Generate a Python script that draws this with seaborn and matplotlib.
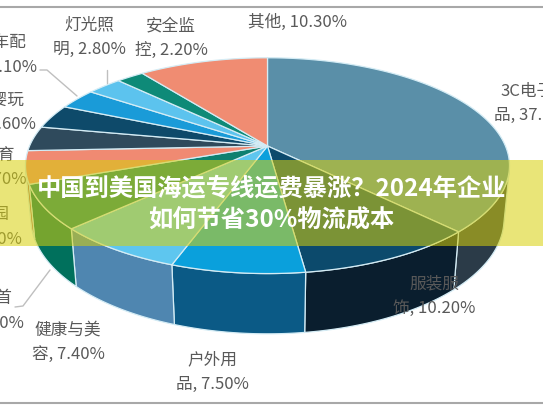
import numpy as np
import matplotlib
matplotlib.use("Agg")
import matplotlib.pyplot as plt
import seaborn as sns
from matplotlib.patches import Polygon, Rectangle

# ---------------- data ----------------
categories = ["3C电子产品", "服装服饰", "户外用品", "健康与美容", "珠宝首饰", "家居园艺",
              "运动体育", "母婴玩具", "汽车配件", "灯光照明", "安全监控", "其他"]
shares = [37.7, 10.2, 7.5, 7.4, 6.6, 4.9, 3.7, 3.6, 3.1, 2.8, 2.2, 10.3]
label_texts = ["3C电子产\n品, 37.70%", "服装服\n饰, 10.20%", "户外用\n品, 7.50%",
               "健康与美\n容, 7.40%", "珠宝首\n饰, 6.60%", "家居园\n艺, 4.90%",
               "运动体育\n用品, 3.70%", "母婴玩\n具, 3.60%", "汽车配\n件, 3.10%",
               "灯光照\n明, 2.80%", "安全监\n控, 2.20%", "其他, 10.30%"]
title_lines = ["中国到美国海运专线运费暴涨？2024年企业", "如何节省30%物流成本"]

# ---------------- style ----------------
top_colors = ["#5a8fa8", "#0c4a6c", "#0aa0dc", "#5ec6ef", "#0e8070", "#f08a72",
              "#2f4a5c", "#0e4a6a", "#1a9bd8", "#5cc3ee", "#0e8a78", "#f08c72"]
side_colors = ["#2b3b48", "#0a1e2e", "#0b5a86", "#4f86b0", "#00705c", "#a8503e",
               "#1c2e3a", "#082c40", "#0d5c84", "#3a7fa0", "#085a4e", "#a8503e"]
# label anchor positions (pixel layout)
label_pos = [(535, 103), (434, 296), (212, 372), (68, 342), (-13, 311), (-15, 227),
             (-18, 167), (-1, 112), (1, 55), (89, 37), (171, 38), (298, 22)]

sns.set_theme(style="white")
plt.rcParams['font.family'] = ['Noto Sans CJK SC', 'DejaVu Sans']

W, H = 543, 408
fig = plt.figure(figsize=(W / 100, H / 100), dpi=100)
ax = fig.add_axes([0, 0, 1, 1])
ax.set_xlim(0, W)
ax.set_ylim(H, 0)
ax.axis('off')

# perspective projection of the pie
cx, cy = 267.5, 146
elev = np.deg2rad(26)
Dcam = 4.93
Fcam = 1173
thick = 0.25


def proj(theta, r=1.0, h=0.0):
    u = r * np.sin(theta)
    v = r * np.cos(theta)
    depth = Dcam + v * np.cos(elev) - h * np.sin(elev)
    up = v * np.sin(elev) + h * np.cos(elev)
    return cx + Fcam * u / depth, cy - Fcam * up / depth


edge_col = "#d4ecf5"
fr = np.array(shares) / np.sum(shares)
bounds = np.concatenate([[0], np.cumsum(fr)]) * 2 * np.pi

# visible side range
cmin = -1 / (Dcam * np.cos(elev))
th_lo = np.arccos(cmin)
th_hi = 2 * np.pi - th_lo

# sides
for i in range(len(shares)):
    a, b = bounds[i], bounds[i + 1]
    a2, b2 = max(a, th_lo), min(b, th_hi)
    if b2 <= a2:
        continue
    t = np.linspace(a2, b2, 80)
    xt, yt = proj(t)
    xb, yb = proj(t[::-1], h=-thick)
    pts = np.column_stack([np.concatenate([xt, xb]), np.concatenate([yt, yb])])
    ax.add_patch(Polygon(pts, closed=True, facecolor=side_colors[i],
                         edgecolor=edge_col, lw=0.9, zorder=2))

# top wedges
for i in range(len(shares)):
    a, b = bounds[i], bounds[i + 1]
    t = np.linspace(a, b, max(int((b - a) * 60), 4))
    xt, yt = proj(t)
    x0, y0 = proj(0.0, r=0.0)
    pts = np.column_stack([np.concatenate([[x0], xt]), np.concatenate([[y0], yt])])
    ax.add_patch(Polygon(pts, closed=True, facecolor=top_colors[i],
                         edgecolor=edge_col, lw=0.9, zorder=3))

# labels
for txt, (lx, ly) in zip(label_texts, label_pos):
    ax.text(lx, ly, txt, ha='center', va='center', fontsize=12, color='#595959',
            linespacing=1.55, multialignment='center', zorder=5)

# leader lines
lc = '#bfbfbf'
ax.plot([40, 47, 77], [70, 70, 96], color=lc, lw=1, zorder=4)
ax.plot([107, 107], [70, 83], color=lc, lw=1, zorder=4)
ax.plot([15, 23, 50], [307, 306, 270], color=lc, lw=1, zorder=4)

# frame lines
ax.plot([0, W], [7, 7], color='#a8a8a8', lw=1.5, zorder=6)
ax.plot([0, W], [403, 403], color='#a8a8a8', lw=1.5, zorder=6)

# yellow overlay band with title
ax.add_patch(Rectangle((0, 160), W, 86, facecolor='#d7d00a', alpha=0.55,
                       edgecolor='none', zorder=7))
ax.text(W / 2, 188, title_lines[0], ha='center', va='center', fontsize=17.5,
        fontweight='bold', color='white', zorder=8)
ax.text(W / 2, 221, title_lines[1], ha='center', va='center', fontsize=17.5,
        fontweight='bold', color='white', zorder=8)

fig.savefig("out.png", dpi=100)
